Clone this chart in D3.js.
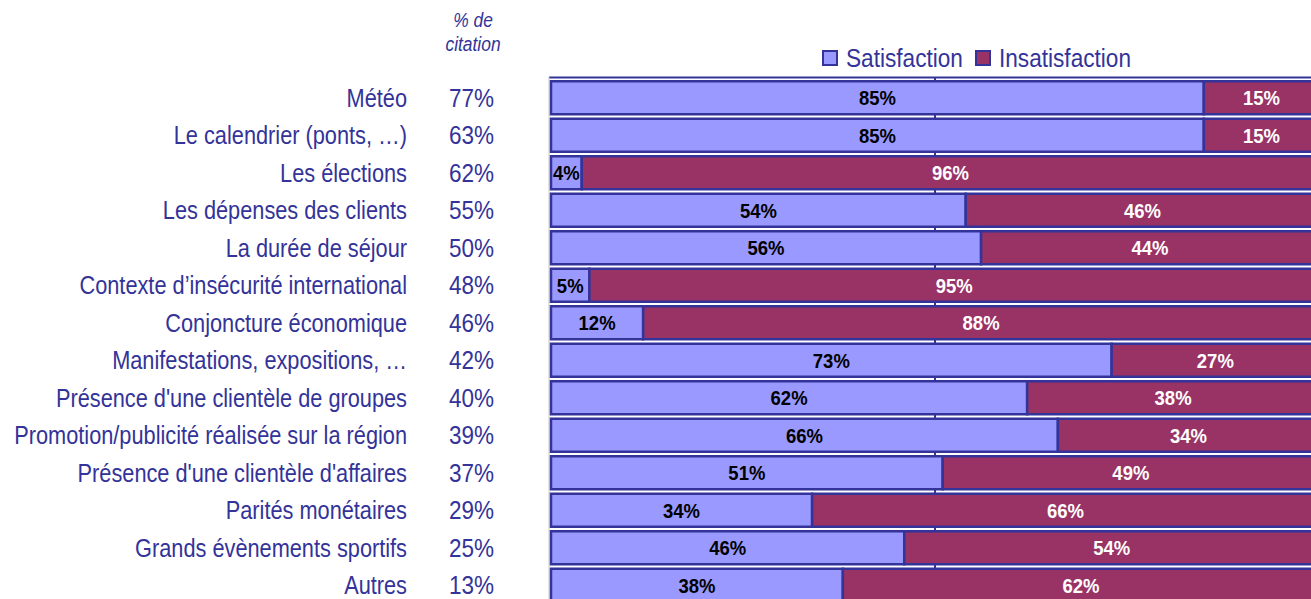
<!DOCTYPE html>
<html>
<head>
<meta charset="utf-8">
<script src="https://cdn.jsdelivr.net/npm/d3@7"></script>
<style>
  body { margin: 0; background: #fff; }
  svg { display: block; font-family: "Liberation Sans", Arial, sans-serif; }
</style>
</head>
<body>
<div id="chart"></div>
<script>
var categories = ["Météo", "Le calendrier (ponts, …)", "Les élections", "Les dépenses des clients",
  "La durée de séjour", "Contexte d’insécurité international", "Conjoncture économique",
  "Manifestations, expositions, …", "Présence d'une clientèle de groupes",
  "Promotion/publicité réalisée sur la région", "Présence d'une clientèle d'affaires",
  "Parités monétaires", "Grands évènements sportifs", "Autres"];
var citation = [77, 63, 62, 55, 50, 48, 46, 42, 40, 39, 37, 29, 25, 13];
var satisfaction = [85, 85, 4, 54, 56, 5, 12, 73, 62, 66, 51, 34, 46, 38];
var insatisfaction = [15, 15, 96, 46, 44, 95, 88, 27, 38, 34, 49, 66, 54, 62];
var seriesNames = ["Satisfaction", "Insatisfaction"];

var W = 1311, H = 599;
var blue = "#333399", colSat = "#9999ff", colIns = "#993366";
var SX = 0.87; // condensed look of the original font

var svg = d3.select("#chart").append("svg").attr("width", W).attr("height", H);

var x = d3.scaleLinear().domain([0, 100]).range([551, 1319]);
var y = d3.scaleBand().domain(categories).range([79, 79 + categories.length * 37.5])
  .paddingInner(0.12).paddingOuter(0.06);

var rows = categories.map(function(c, i) {
  return {cat: c, cit: citation[i], sat: satisfaction[i], ins: insatisfaction[i]};
});

function mid(d) { return y(d.cat) + y.bandwidth() / 2; }
function place(px, py, sx) { return "translate(" + px + "," + py + ") scale(" + sx + ",1)"; }

// plot frame
svg.append("line").attr("x1", x(0) - 2).attr("x2", W).attr("y1", 77.5).attr("y2", 77.5)
  .attr("stroke", blue).attr("stroke-width", 2);
svg.append("line").attr("x1", x(0) - 2).attr("x2", x(0) - 2).attr("y1", 77).attr("y2", H)
  .attr("stroke", "#c8c8c8").attr("stroke-width", 1);
svg.append("line").attr("x1", x(50)).attr("x2", x(50)).attr("y1", 77).attr("y2", H)
  .attr("stroke", blue).attr("stroke-width", 2);

var g = svg.selectAll(".row").data(rows).enter().append("g").attr("class", "row");

g.append("rect")
  .attr("x", x(0)).attr("y", function(d) { return y(d.cat); })
  .attr("width", function(d) { return x(d.sat) - x(0); })
  .attr("height", y.bandwidth())
  .attr("fill", colSat).attr("stroke", blue).attr("stroke-width", 2.5);

g.append("rect")
  .attr("x", function(d) { return x(d.sat); }).attr("y", function(d) { return y(d.cat); })
  .attr("width", function(d) { return x(d.sat + d.ins) - x(d.sat); })
  .attr("height", y.bandwidth())
  .attr("fill", colIns).attr("stroke", blue).attr("stroke-width", 2.5);

g.append("text")
  .attr("transform", function(d) { return place(x(d.sat / 2), mid(d), 0.88); })
  .attr("dy", "0.36em").attr("text-anchor", "middle")
  .style("font-size", "21px").style("font-weight", "bold").attr("fill", "#000")
  .text(function(d) { return d.sat + "%"; });

g.append("text")
  .attr("transform", function(d) { return place(x(d.sat + d.ins / 2), mid(d), 0.88); })
  .attr("dy", "0.36em").attr("text-anchor", "middle")
  .style("font-size", "21px").style("font-weight", "bold").attr("fill", "#fff")
  .text(function(d) { return d.ins + "%"; });

// category labels and citation rates
g.append("text")
  .attr("transform", function(d) { return place(407, mid(d), SX); })
  .attr("dy", "0.36em").attr("text-anchor", "end")
  .style("font-size", "25px").attr("fill", blue)
  .text(function(d) { return d.cat; });

g.append("text")
  .attr("transform", function(d) { return place(494, mid(d), 0.9); })
  .attr("dy", "0.36em").attr("text-anchor", "end")
  .style("font-size", "25px").attr("fill", blue)
  .text(function(d) { return d.cit + "%"; });

// header
svg.append("text").attr("transform", place(473, 27, SX)).attr("text-anchor", "middle")
  .style("font-size", "20px").style("font-style", "italic").attr("fill", blue).text("% de");
svg.append("text").attr("transform", place(473, 51, SX)).attr("text-anchor", "middle")
  .style("font-size", "20px").style("font-style", "italic").attr("fill", blue).text("citation");

// legend
var legX = [823, 976];
var leg = svg.selectAll(".leg").data(seriesNames).enter().append("g").attr("class", "leg")
  .attr("transform", function(d, i) { return "translate(" + legX[i] + ",51)"; });
leg.append("rect").attr("width", 14).attr("height", 14)
  .attr("fill", function(d, i) { return i ? colIns : colSat; })
  .attr("stroke", blue).attr("stroke-width", 2);
leg.append("text").attr("transform", place(23, 7, SX)).attr("dy", "0.36em")
  .style("font-size", "26px").attr("fill", blue).text(function(d) { return d; });
</script>
</body>
</html>
